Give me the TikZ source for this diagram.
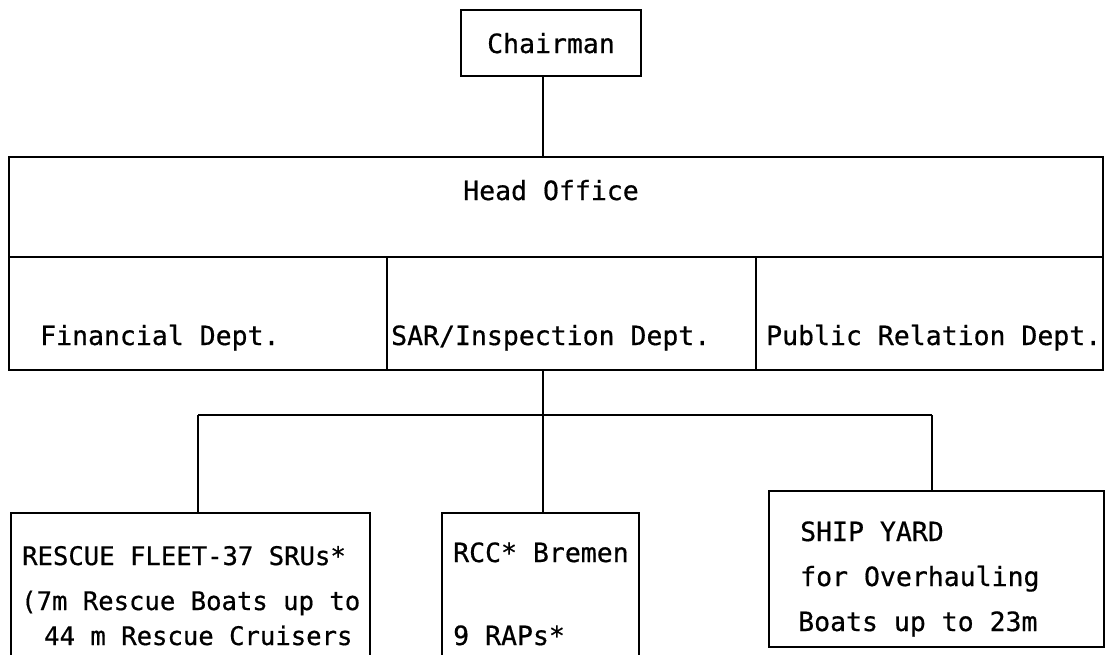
\documentclass[tikz,border=0pt]{standalone}
\usepackage{fontspec}
\newfontfamily\tw[FakeBold=0.6]{DejaVu Sans Mono}
\begin{document}
\begin{tikzpicture}[x=1pt,y=-1pt,
  box/.style={draw=black, line width=2.4pt, rectangle, inner sep=0pt},
  txt/.style={font=\tw\fontsize{26.5}{30}\selectfont, inner sep=0pt, text=black},
  small/.style={font=\tw\fontsize{25.6}{30}\selectfont, inner sep=0pt, text=black},
  conn/.style={draw=black, line width=2.6pt}]
\useasboundingbox (0,0) rectangle (1113,654);
\clip (0,0) rectangle (1113,654);
% Chairman
\node[box, minimum width=180pt, minimum height=66pt] (chair) at (551,43) {};
\node[txt, anchor=base] (chairT) at (551,53) {Chairman};
% Head office
\node[box, minimum width=1094pt, minimum height=100pt] (head) at (556,207) {};
\node[txt, anchor=base] (headT) at (551,200) {Head Office};
% Departments
\node[box, minimum width=378pt, minimum height=113pt] (fin) at (198,313.5) {};
\node[box, minimum width=369pt, minimum height=113pt] (sar) at (571.5,313.5) {};
\node[box, minimum width=347pt, minimum height=113pt] (pub) at (929.5,313.5) {};
\node[txt, anchor=base west] (finT) at (40,345) {Financial Dept.};
\node[txt, anchor=base west] (sarT) at (391,345) {SAR/Inspection Dept.};
\node[txt, anchor=base west] (pubT) at (766,345) {Public Relation Dept.};
% Bottom boxes (cut off by the lower edge)
\node[box, minimum width=359pt, minimum height=200pt, anchor=north west] (fleet) at (10,512) {};
\node[box, minimum width=197pt, minimum height=200pt, anchor=north west] (rcc) at (441,512) {};
\node[box, minimum width=335pt, minimum height=156pt, anchor=north west] (yard) at (768,490) {};
\node[small, anchor=base west] (f1) at (22,565) {RESCUE FLEET-37 SRUs*};
\node[small, anchor=base west] (f2) at (21,610) {(7m Rescue Boats up to};
\node[small, anchor=base west] (f3) at (44,645) {44 m Rescue Cruisers};
\node[txt, anchor=base west] (r1) at (453,562) {RCC* Bremen};
\node[txt, anchor=base west] (r2) at (453,645) {9 RAPs*};
\node[txt, anchor=base west] (y1) at (800,541) {SHIP YARD};
\node[txt, anchor=base west] (y2) at (800,586) {for Overhauling};
\node[txt, anchor=base west] (y3) at (798,631) {Boats up to 23m};
% Connectors
\coordinate (hl) at (198,415);
\coordinate (hr) at (932,415);
\draw[conn] (chair.south -| 543,0) -- (head.north -| 543,0);
\draw[conn] (sar.south -| 543,0) -- (rcc.north -| 543,0);
\draw[conn] (hl) -- (hr);
\draw[conn] (hl) -- (fleet.north -| hl);
\draw[conn] (hr) -- (yard.north -| hr);
\end{tikzpicture}
\end{document}
